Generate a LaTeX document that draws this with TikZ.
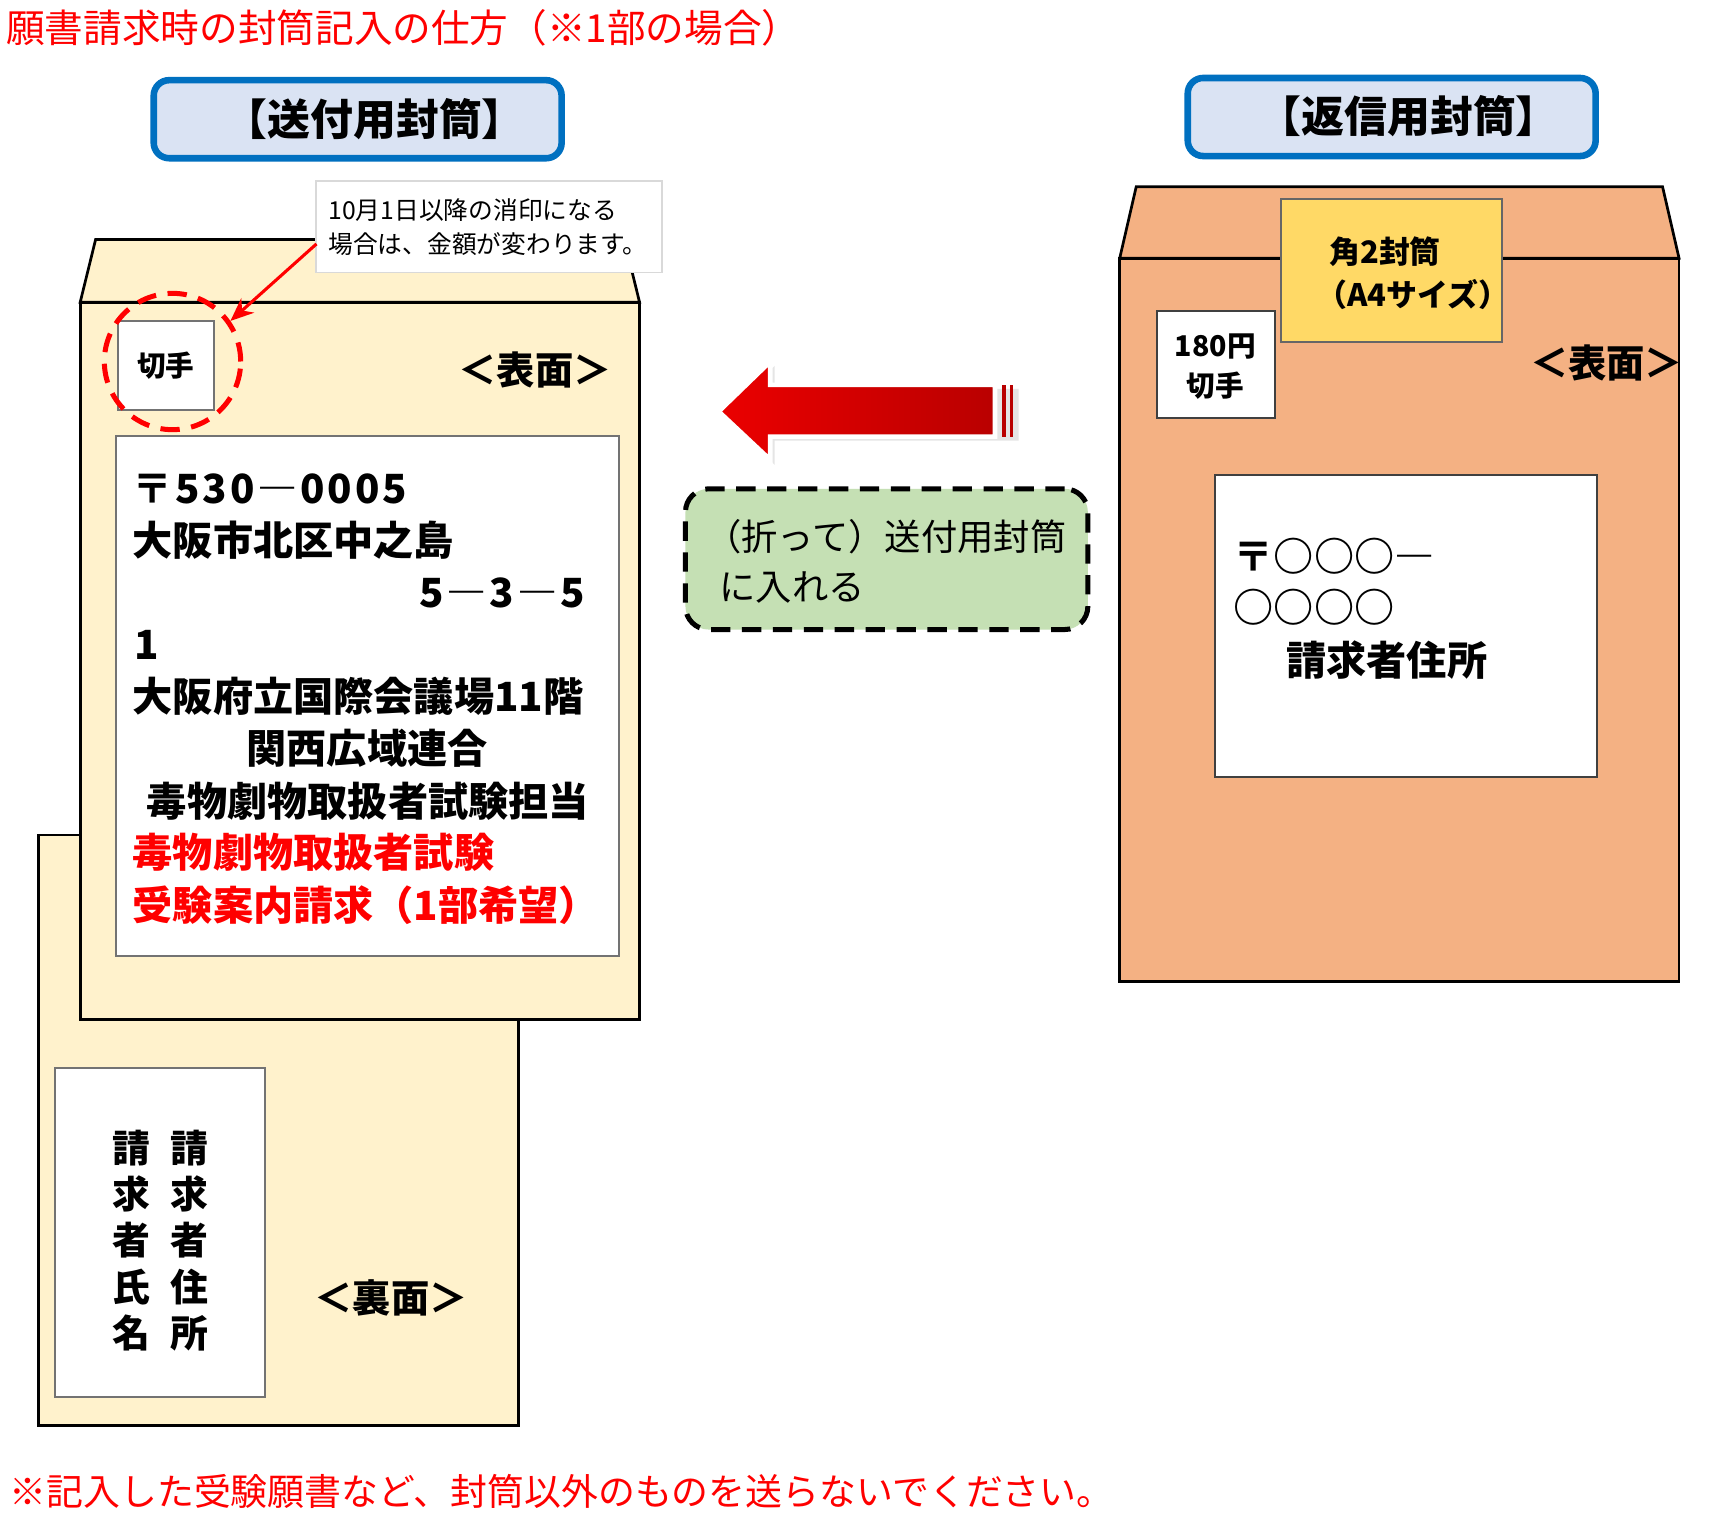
\documentclass[tikz,border=0pt]{standalone}
\usepackage{fontspec}
\setmainfont{Noto Sans CJK JP}
\usepackage{xcolor}
\definecolor{envcream}{HTML}{FFF2CC}
\definecolor{envorange}{HTML}{F4B183}
\definecolor{hdrblue}{HTML}{0070C0}
\definecolor{hdrfill}{HTML}{DAE3F3}
\definecolor{tagyellow}{HTML}{FFD966}
\definecolor{notegreen}{HTML}{C5E0B4}
\definecolor{arrowred}{RGB}{235,0,0}
\definecolor{arrowdark}{RGB}{185,0,0}
\usetikzlibrary{arrows.meta, positioning, calc}

\begin{document}
\begin{tikzpicture}[x=0.01cm, y=-0.01cm,
  hdrbox/.style={draw=hdrblue, line width=1.7pt, fill=hdrfill, rounded corners=4pt,
                 minimum width=3.71cm, minimum height=0.71cm},
  hdrtext/.style={inner sep=0pt, font=\fontsize{11.1}{13}\selectfont\bfseries},
  envline/.style={draw=black, line width=0.7pt},
  paper/.style={draw=black!55, fill=white, line width=0.5pt, inner sep=0pt},
  addrline/.style={anchor=west, inner sep=0pt, font=\fontsize{10.4}{12}\selectfont\bfseries},
  digits/.style={font=\fontsize{10.4}{12}\selectfont\bfseries\addfontfeature{LetterSpace=7}},
  sidemark/.style={inner sep=0pt, font=\fontsize{9.9}{12}\selectfont\bfseries},
  stamptext/.style={inner sep=0pt, align=center, font=\fontsize{7.4}{10.5}\selectfont\bfseries},
  vtext/.style={inner sep=0pt, align=center, font=\fontsize{9.8}{11.95}\selectfont\bfseries},
]
\fill[white] (0,0) rectangle (1568,1377);
\useasboundingbox (0,0) rectangle (1568,1377);

% --- Title ---
\node[anchor=west, inner sep=0pt, red, font=\fontsize{10}{12}\selectfont]
      (title) at (5,25) {願書請求時の封筒記入の仕方（※1部の場合）};

% --- Headers ---
\node[hdrbox] (send-hdr) at (325.5,108.5) {};
\node[hdrtext] (send-hdr-text) at (341,108) {【送付用封筒】};
\node[hdrbox] (return-hdr) at (1266.5,106.5) {};
\node[hdrtext] (return-hdr-text) at (1282,106) {【返信用封筒】};

% --- Sending envelope, back side ---
\draw[envline, fill=envcream] (35,760) rectangle (472,1297);
\node[paper, minimum width=1.91cm, minimum height=2.99cm] (back-box) at (145.5,1121.5) {};
\node[vtext] (name-col) at (120,1129) {請\\求\\者\\氏\\名};
\node[vtext] (home-col) at (172,1129) {請\\求\\者\\住\\所};
\node[sidemark] (back-mark) at (356,1181) {＜裏面＞};

% --- Sending envelope, front side ---
\draw[envline, fill=envcream] (73,275) -- (87,218) -- (568,218) -- (582,275) -- cycle;
\draw[envline, fill=envcream] (73,275) rectangle (582,928);

% stamp with dashed ring
\node[paper, minimum width=0.88cm, minimum height=0.81cm, stamptext] (stamp) at (151,332.5) {切手};
\node[circle, draw=red, line width=1.3pt, dash pattern=on 5pt off 3pt,
      minimum size=1.24cm, inner sep=0pt] (stamp-ring) at (157,329) {};
\node[sidemark] (front-mark) at (487,337) {＜表面＞};

% postage note
\node[draw=black!15, fill=white, line width=0.5pt, minimum width=3.14cm, minimum height=0.83cm,
      inner xsep=0.11cm, text width=2.92cm, align=left,
      font=\fontsize{6.4}{8.8}\selectfont] (note) at (445,206.5)
      {10月1日以降の消印になる\\場合は、金額が変わります。};
\coordinate (note-tail) at (288,222);
\draw[red, line width=0.8pt, -{Stealth[length=6pt, width=5pt]}] (note-tail) -- (stamp-ring.35);

% address
\node[paper, minimum width=4.57cm, minimum height=4.73cm] (addr-box) at (334.5,633.5) {};
\node[addrline, digits] (addr-zip) at (120,445) {〒530―0005};
\node[addrline] (addr-city) at (120,492) {大阪市北区中之島};
\node[addrline, digits] (addr-block) at (381,540) {5―3―5};
\node[addrline] (addr-lot) at (122,587) {1};
\node[addrline] (addr-hall) at (120,634) {大阪府立国際会議場11階};
\node[addrline, anchor=center] (addr-org) at (334,681) {関西広域連合};
\node[addrline] (addr-dept) at (133,729) {毒物劇物取扱者試験担当};
\node[addrline, red] (addr-req1) at (120,776) {毒物劇物取扱者試験};
\node[addrline, red] (addr-req2) at (120,824) {受験案内請求（1部希望）};

% --- Big arrow ---
\fill[black!10] (658,378) -- (705,333) -- (705,354) -- (927,354) -- (927,401) -- (705,401) -- (705,423) -- cycle;
\path[draw=white, line width=1.2pt, left color=arrowred, right color=arrowdark]
      (654,374.5) -- (701,329) -- (701,350.3) -- (905.5,350.3) -- (905.5,397.4)
      -- (701,397.4) -- (701,418.6) -- cycle;
\fill[arrowdark] (911.5,350.3) rectangle (915.5,397.4);
\fill[arrowdark] (919,350.3) rectangle (922,397.4);

% --- Insert note ---
\node[draw=black, line width=1.3pt, dash pattern=on 5pt off 3pt, fill=notegreen,
      rounded corners=6pt, minimum width=3.66cm, minimum height=1.28cm] (insert-box) at (806.9,508.9) {};
\node[anchor=west, inner sep=0pt, align=left, font=\fontsize{9.4}{13}\selectfont]
      (insert-text) at (641,511) {（折って）送付用封筒\\\hspace*{0.13cm}に入れる};

% --- Return envelope ---
\draw[envline, fill=envorange] (1019,235) -- (1034,170) -- (1513,170) -- (1528,235) -- cycle;
\draw[envline, fill=envorange] (1019,235) rectangle (1528,893);
\node[draw=black!60, fill=tagyellow, line width=0.5pt, minimum width=2.01cm, minimum height=1.30cm]
      (size-tag) at (1266.5,246) {};
\node[anchor=west, inner sep=0pt, font=\fontsize{8}{10}\selectfont\bfseries] (size-tag-1) at (1209,229) {角2封筒};
\node[anchor=west, inner sep=0pt, font=\fontsize{8}{10}\selectfont\bfseries] (size-tag-2) at (1197,268) {（A4サイズ）};
\node[paper, draw=black!75, minimum width=1.07cm, minimum height=0.97cm] (return-stamp) at (1106.5,331.5) {};
\node[stamptext] (return-stamp-text) at (1106,333.5) {180円\\切手};
\node[sidemark] (return-mark) at (1462,330) {＜表面＞};
\node[paper, draw=black!75, minimum width=3.47cm, minimum height=2.75cm] (return-addr) at (1279.5,569.5) {};
\node[addrline] (return-zip1) at (1122,506) {〒○○○―};
\node[addrline] (return-zip2) at (1122,553) {○○○○};
\node[addrline] (return-name) at (1170,601) {請求者住所};

% --- Footer ---
\node[anchor=west, inner sep=0pt, red, font=\fontsize{9.55}{12}\selectfont]
      (footer) at (8,1357) {※記入した受験願書など、封筒以外のものを送らないでください。};

\end{tikzpicture}
\end{document}
